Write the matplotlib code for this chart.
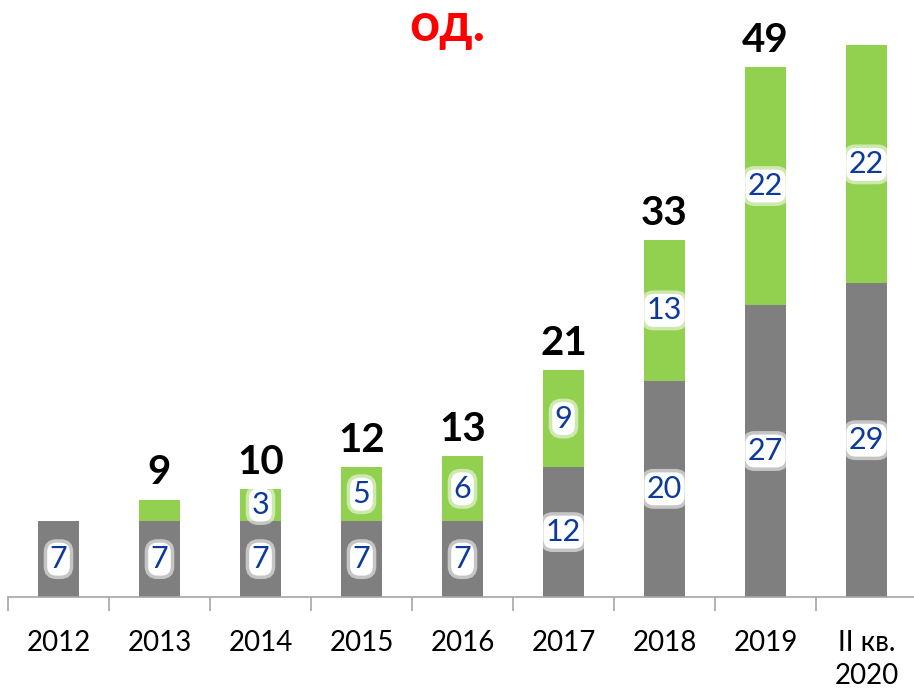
import matplotlib.pyplot as plt
import numpy as np

plt.rcParams["font.family"] = ["Lato", "DejaVu Sans"]

years = ["2012", "2013", "2014", "2015", "2016", "2017", "2018", "2019", "II кв.\n2020"]
gray_vals = [7, 7, 7, 7, 7, 12, 20, 27, 29]
green_vals = [0, 2, 3, 5, 6, 9, 13, 22, 22]
show_total = [False, True, True, True, True, True, True, True, False]

GRAY = "#7f7f7f"
GREEN = "#92d050"
LABEL_BLUE = "#0b3a9c"

fig = plt.figure(figsize=(9.14, 6.88), dpi=100)
ax = fig.add_axes([8 / 914, 91 / 688, 909 / 914, 597 / 688])

x = np.arange(len(years))
gray = np.array(gray_vals)
green = np.array(green_vals)
totals = gray + green

ax.bar(x, gray, width=0.4, color=GRAY, zorder=2)
ax.bar(x, green, width=0.4, bottom=gray, color=GREEN, zorder=2)


def glow_label(xc, yc, value):
    ax.text(xc, yc, str(value), ha="center", va="center", fontsize=22,
            color=LABEL_BLUE, zorder=4,
            bbox=dict(boxstyle="round,pad=0.08,rounding_size=0.3", fc="white",
                      ec=(1, 1, 1, 0.55), lw=5))


for i in range(len(years)):
    glow_label(x[i], gray[i] / 2, gray[i])
    if green[i] >= 3:
        glow_label(x[i], gray[i] + green[i] / 2, green[i])
    if show_total[i]:
        ax.annotate(str(totals[i]), (x[i], totals[i]), xytext=(0, 6),
                    textcoords="offset points", ha="center", va="bottom",
                    fontsize=29, fontweight="bold", color="black")

ax.set_xlim(-0.5, len(years) - 0.5)
ax.set_ylim(0, 55.2)

for side in ("top", "right", "left"):
    ax.spines[side].set_visible(False)
ax.spines["bottom"].set_color("#a6a6a6")
ax.spines["bottom"].set_linewidth(1.2)
ax.set_yticks([])

ax.set_xticks(x)
ax.set_xticklabels(years, fontsize=20, linespacing=1.3, va="top")
ax.tick_params(axis="x", which="major", length=0, pad=24)
ax.set_xticks(np.arange(len(years) + 1) - 0.5, minor=True)
ax.tick_params(axis="x", which="minor", length=10, color="#a6a6a6", width=1.2)

fig.text(447 / 914, 1 - 25 / 688, "од.", ha="center", va="center",
         fontsize=38, fontweight="bold", color="#ff0000")

fig.savefig("out.png", dpi=100)
